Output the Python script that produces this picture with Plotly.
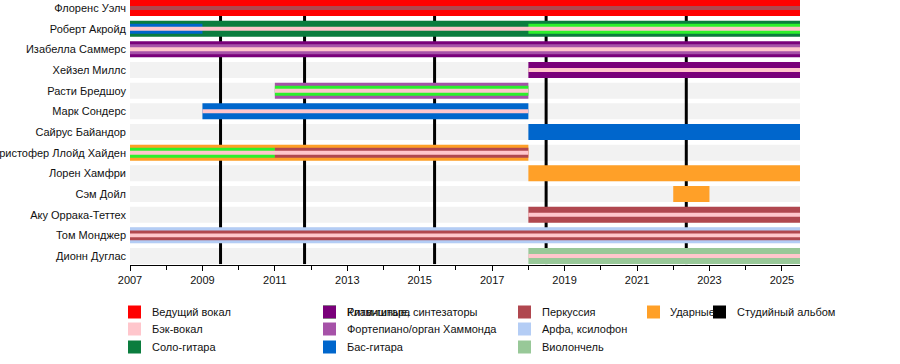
import plotly.graph_objects as go

# ---------------- data ----------------
members = ["Флоренс Уэлч", "Роберт Акройд", "Изабелла Саммерс", "Хейзел Миллс",
           "Расти Бредшоу", "Марк Сондерс", "Сайрус Байандор", "Кристофер Ллойд Хайден",
           "Лорен Хамфри", "Сэм Дойл", "Аку Оррака-Теттех", "Том Монджер", "Дионн Дуглас"]

timeline_start = 2007.0
timeline_end = 2025.5

# rank: 1 = main instrument, 2 = secondary, 3 = backing vocals
seg_member = ["Флоренс Уэлч", "Флоренс Уэлч",
              "Роберт Акройд", "Роберт Акройд", "Роберт Акройд", "Роберт Акройд",
              "Изабелла Саммерс", "Изабелла Саммерс", "Изабелла Саммерс",
              "Хейзел Миллс", "Хейзел Миллс",
              "Расти Бредшоу", "Расти Бредшоу", "Расти Бредшоу",
              "Марк Сондерс", "Марк Сондерс",
              "Сайрус Байандор",
              "Кристофер Ллойд Хайден", "Кристофер Ллойд Хайден", "Кристофер Ллойд Хайден", "Кристофер Ллойд Хайден",
              "Лорен Хамфри",
              "Сэм Дойл",
              "Аку Оррака-Теттех", "Аку Оррака-Теттех",
              "Том Монджер", "Том Монджер", "Том Монджер",
              "Дионн Дуглас", "Дионн Дуглас"]
seg_role = ["lead_vocals", "percussion",
            "lead_guitar", "bass", "rhythm_guitar", "backing_vocals",
            "keyboards", "piano", "backing_vocals",
            "keyboards", "backing_vocals",
            "piano", "rhythm_guitar", "backing_vocals",
            "bass", "backing_vocals",
            "bass",
            "drums", "rhythm_guitar", "percussion", "backing_vocals",
            "drums",
            "drums",
            "percussion", "backing_vocals",
            "harp", "percussion", "backing_vocals",
            "cello", "backing_vocals"]
seg_start = [2007.0, 2007.0,
             2007.0, 2007.0, 2018.0, 2007.0,
             2007.0, 2007.0, 2007.0,
             2018.0, 2018.0,
             2011.0, 2011.0, 2011.0,
             2009.0, 2009.0,
             2018.0,
             2007.0, 2007.0, 2011.0, 2007.0,
             2018.0,
             2022.0,
             2018.0, 2018.0,
             2007.0, 2007.0, 2007.0,
             2018.0, 2018.0]
seg_end = [2025.5, 2025.5,
           2025.5, 2009.0, 2025.5, 2025.5,
           2025.5, 2025.5, 2025.5,
           2025.5, 2025.5,
           2018.0, 2018.0, 2018.0,
           2018.0, 2018.0,
           2025.5,
           2018.0, 2011.0, 2018.0, 2018.0,
           2025.5,
           2023.0,
           2025.5, 2025.5,
           2025.5, 2025.5, 2025.5,
           2025.5, 2025.5]
seg_rank = [1, 3,
            1, 2, 2, 3,
            1, 2, 3,
            1, 3,
            1, 2, 3,
            1, 3,
            1,
            1, 2, 2, 3,
            1,
            1,
            1, 3,
            1, 2, 3,
            1, 3]

album_dates = [2009.5, 2011.82, 2015.41, 2018.49, 2022.36]

tick_years = [2007, 2009, 2011, 2013, 2015, 2017, 2019, 2021, 2023, 2025]
tick_labels = ["2007", "2009", "2011", "2013", "2015", "2017", "2019", "2021", "2023", "2025"]

legend_roles = ["lead_vocals", "backing_vocals", "lead_guitar", "rhythm_guitar", "keyboards",
                "piano", "bass", "percussion", "harp", "cello", "drums", "album"]
legend_labels = ["Ведущий вокал", "Бэк-вокал", "Соло-гитара", "Ритм-гитара",
                 "Клавишные, синтезаторы", "Фортепиано/орган Хаммонда", "Бас-гитара",
                 "Перкуссия", "Арфа, ксилофон", "Виолончель", "Ударные", "Студийный альбом"]

# ---------------- style ----------------
colors = {
    "lead_vocals": "#ff0000",
    "backing_vocals": "#ffc6cc",
    "lead_guitar": "#0b7d3e",
    "rhythm_guitar": "#2cf02c",
    "keyboards": "#7a007a",
    "piano": "#a652a8",
    "bass": "#0066cc",
    "percussion": "#b0474f",
    "harp": "#b4cdf5",
    "cello": "#98c898",
    "drums": "#ffa028",
    "album": "#000000",
}
rank_width = {1: 0.774, 2: 0.48, 3: 0.19}
FONT = "Liberation Sans, Arial, sans-serif"

W, H = 900, 364
L, R, T, B = 130, 100, 0, 99
PW, PH = W - L - R, H - T - B

fig = go.Figure()

# bars: drawn by rank so thinner stripes sit on top
for rank in (1, 2, 3):
    for m, role, s, e, rk in zip(seg_member, seg_role, seg_start, seg_end, seg_rank):
        if rk != rank:
            continue
        fig.add_trace(go.Bar(
            y=[m], x=[e - s], base=[s], orientation="h",
            width=rank_width[rk],
            marker=dict(color=colors[role], line=dict(width=0)),
            showlegend=False, hoverinfo="skip",
        ))

shapes = []
# light gray row bands
for i, _m in enumerate(members):
    shapes.append(dict(type="rect", xref="x", yref="y",
                       x0=timeline_start, x1=timeline_end,
                       y0=i - 0.387, y1=i + 0.387,
                       fillcolor="#f2f2f2", line=dict(width=0), layer="below"))
# album release lines
for d in album_dates:
    shapes.append(dict(type="line", xref="x", yref="y",
                       x0=d, x1=d, y0=0.387, y1=12.39,
                       line=dict(color="black", width=3), layer="below"))

# manual legend
col_px = [(128, 150), (323, 345), (518, 540), (647, 668), (713, 735)]
row_py = [312, 329, 347]
legend_pos = [(0, 0), (0, 1), (0, 2), (1, 0), (1, 0), (1, 1), (1, 2),
              (2, 0), (2, 1), (2, 2), (3, 0), (4, 0)]


def px_x(px):
    return (px - L) / PW


def px_y(py):
    return (H - B - py) / PH


annotations = []
for role, label, (c, r) in zip(legend_roles, legend_labels, legend_pos):
    sx, tx = col_px[c]
    cy = row_py[r]
    shapes.append(dict(type="rect", xref="paper", yref="paper",
                       x0=px_x(sx), x1=px_x(sx + 13),
                       y0=px_y(cy + 6.5), y1=px_y(cy - 6.5),
                       fillcolor=colors[role], line=dict(width=0)))
    annotations.append(dict(xref="paper", yref="paper", x=px_x(tx), y=px_y(cy),
                            text=label, showarrow=False, xanchor="left", yanchor="middle",
                            font=dict(family=FONT, size=11, color="#111")))

fig.update_layout(
    width=W, height=H,
    margin=dict(l=L, r=R, t=T, b=B, autoexpand=False),
    barmode="overlay",
    plot_bgcolor="white", paper_bgcolor="white",
    shapes=shapes, annotations=annotations,
    showlegend=False,
    font=dict(family=FONT, size=11, color="#111"),
    xaxis=dict(range=[timeline_start, timeline_end], autorange=False,
               tickvals=tick_years, ticktext=tick_labels,
               ticks="outside", ticklen=5, tickwidth=1, tickcolor="black",
               showline=True, linecolor="black", linewidth=1,
               showgrid=False, zeroline=False,
               minor=dict(dtick=1, tick0=2007, ticks="outside", ticklen=4,
                          tickcolor="black", showgrid=False),
               tickfont=dict(family=FONT, size=11, color="#111")),
    yaxis=dict(type="category", categoryorder="array", categoryarray=members,
               range=[12.435, -0.387], autorange=False,
               showgrid=False, zeroline=False, showline=False, ticks="",
               ticklabelstandoff=3,
               tickfont=dict(family=FONT, size=11, color="#111")),
)

fig.write_html("out.html",
               config={"displayModeBar": False},
               post_script="document.body.style.margin='0';document.body.style.overflow='hidden';")
